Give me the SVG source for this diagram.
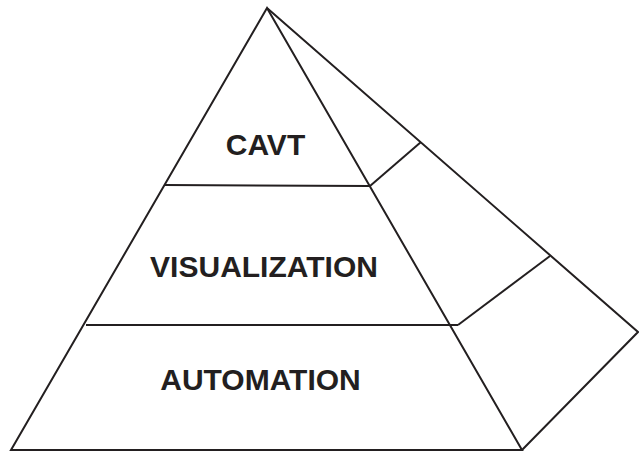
<svg xmlns="http://www.w3.org/2000/svg" width="639" height="453" viewBox="0 0 639 453">
<style>
.ln{fill:none;stroke:#231f20;stroke-width:2;stroke-linejoin:miter;stroke-linecap:butt}
.lb{font-family:"Liberation Sans",Arial,sans-serif;font-weight:bold;font-size:30px;fill:#231f20;text-anchor:middle}
</style>
<rect width="639" height="453" fill="#ffffff"/>
<g id="connectors">
<polygon class="ln" points="267,8 11,450 522,450"/>
<polyline class="ln" points="267,8 638,332 522,450"/>
<line class="ln" x1="164" y1="185" x2="370" y2="186"/>
<line class="ln" x1="86" y1="325" x2="458" y2="325"/>
<line class="ln" x1="370" y1="186" x2="421" y2="142"/>
<line class="ln" x1="458" y1="325" x2="550" y2="256"/>
</g>
<g id="cavt"><text class="lb" x="265.5" y="155" font-size="29">CAVT</text></g>
<g id="visualization"><text class="lb" x="264" y="277">VISUALIZATION</text></g>
<g id="automation"><text class="lb" x="260.5" y="390">AUTOMATION</text></g>
</svg>
